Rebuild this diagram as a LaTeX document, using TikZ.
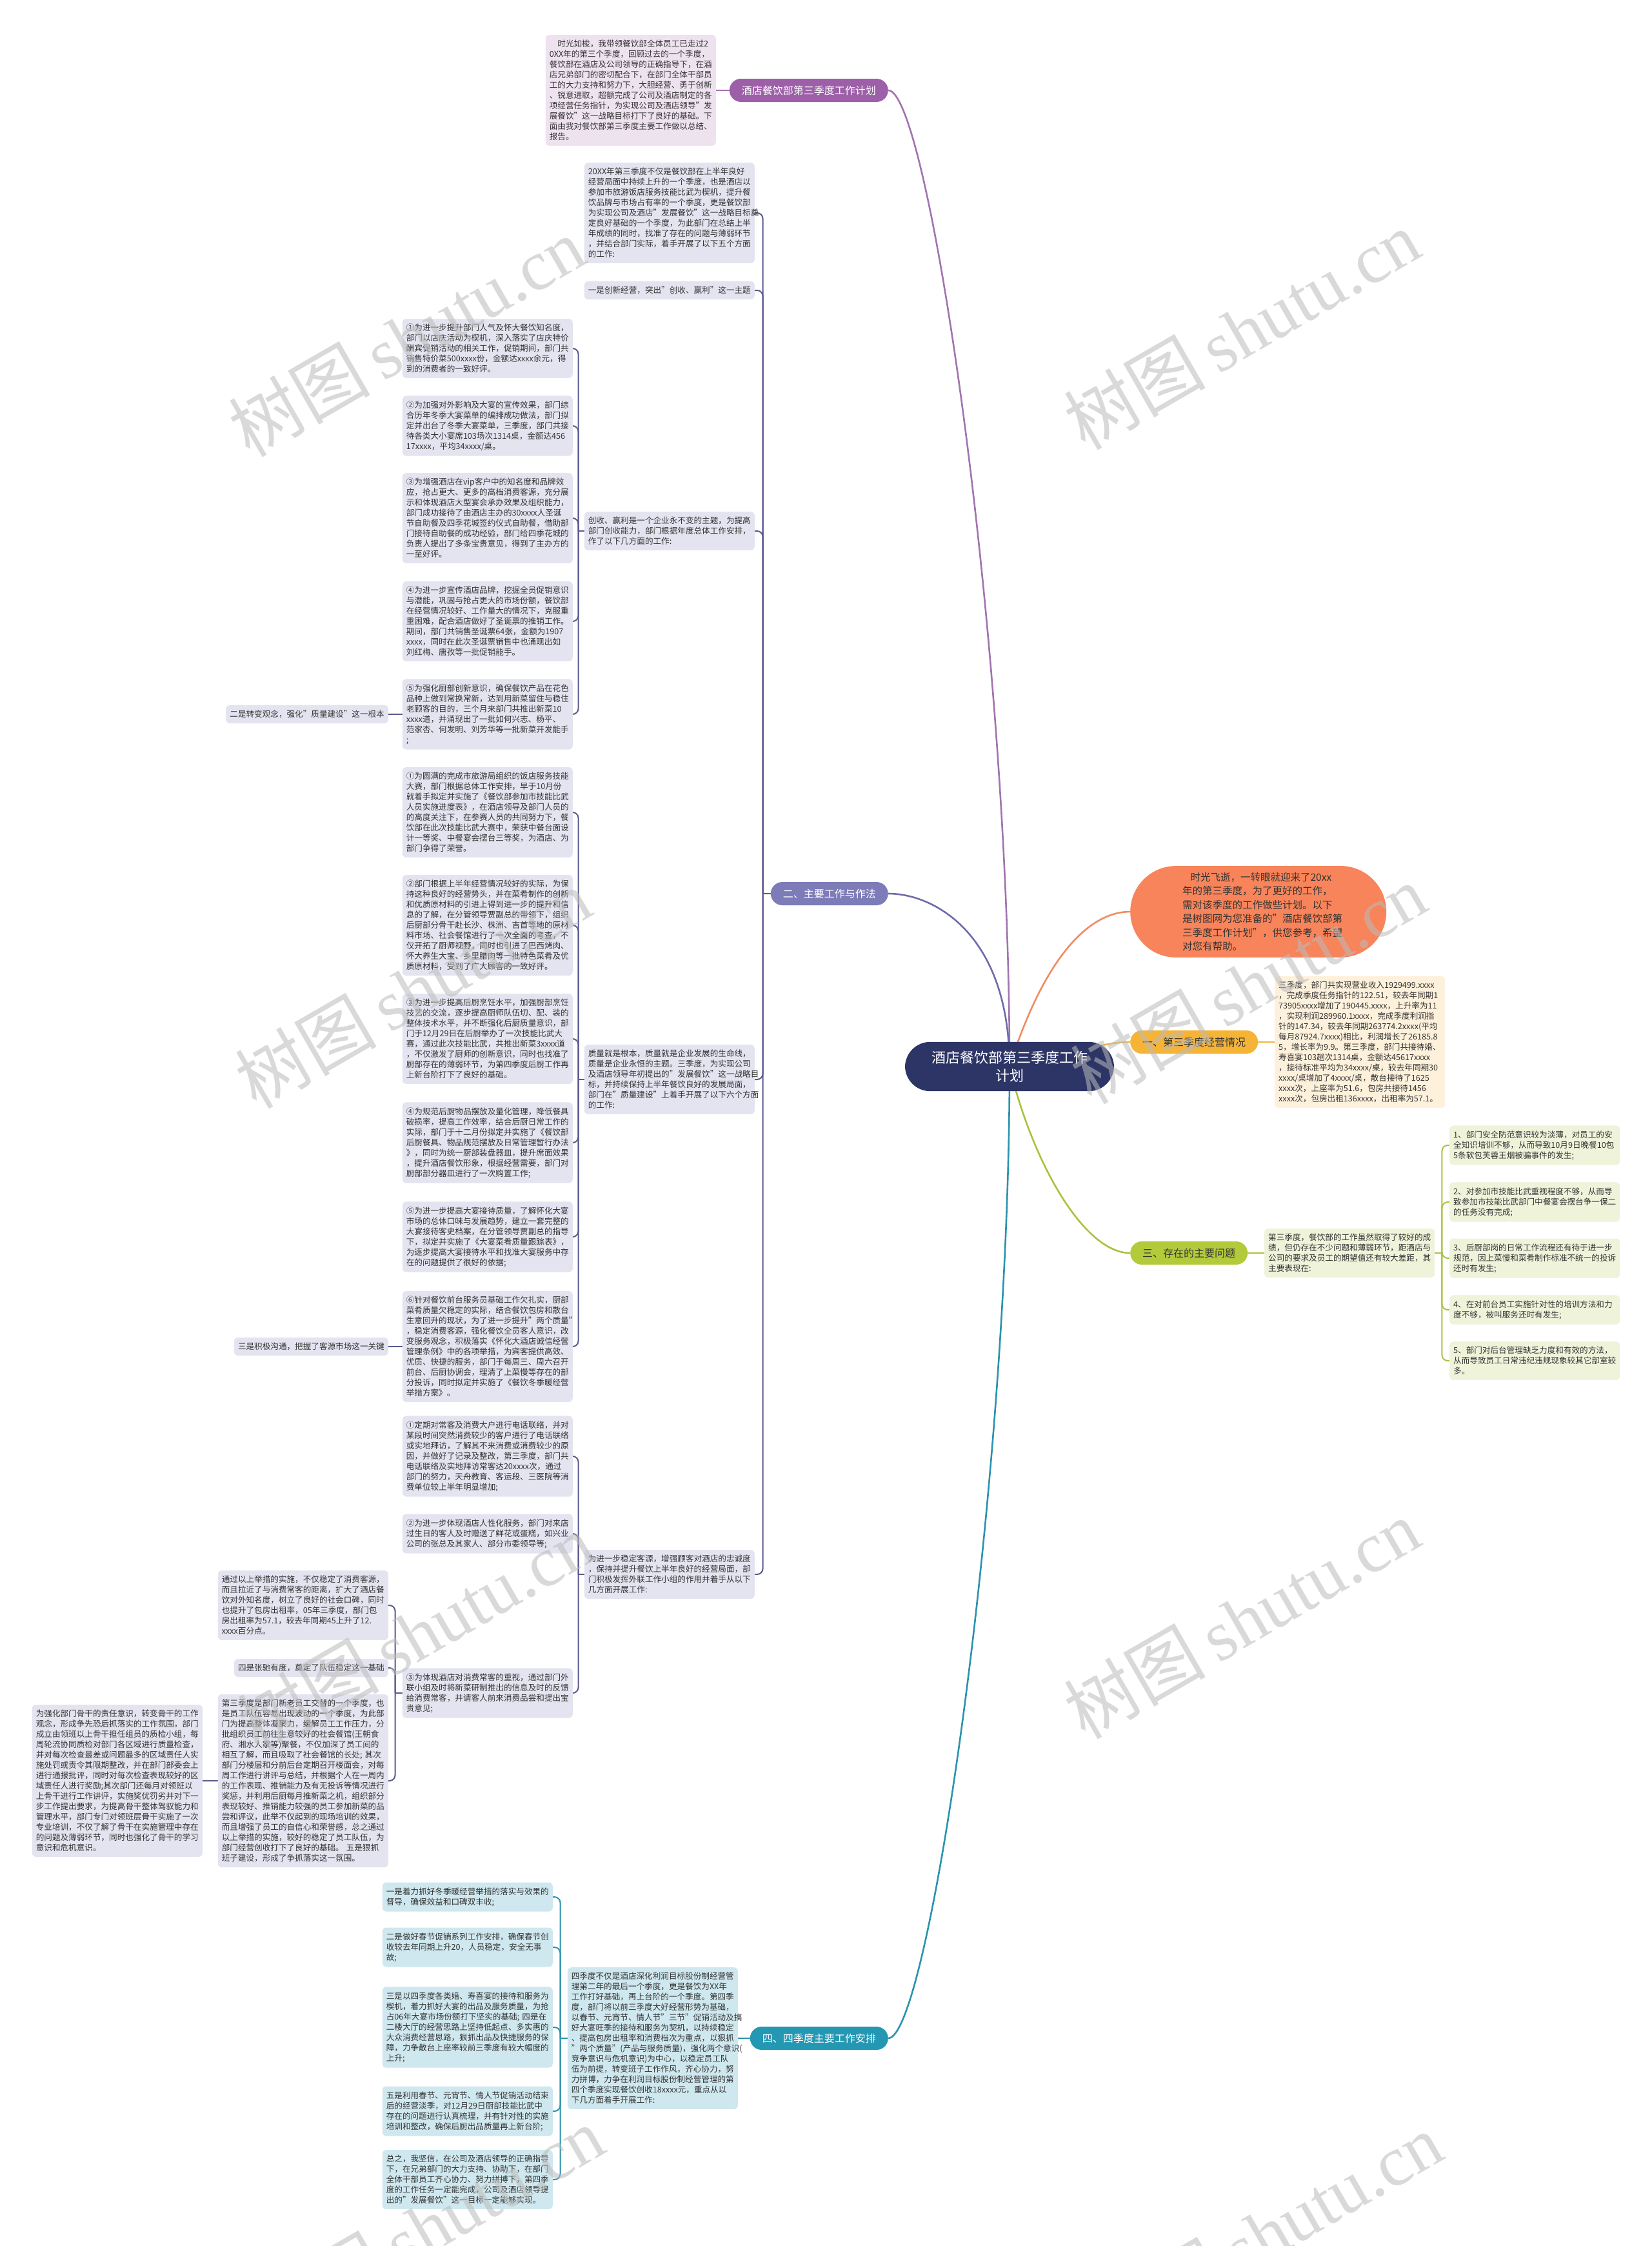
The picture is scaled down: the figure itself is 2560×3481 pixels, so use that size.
\documentclass[tikz,border=0pt]{standalone}
\usepackage{fontspec}
\setmainfont{Noto Sans CJK SC}
\newfontfamily\wmserif{Liberation Serif}
\usetikzlibrary{backgrounds}
\definecolor{txt}{HTML}{333333}
\definecolor{lavbox}{HTML}{E4E4F1}
\definecolor{purbox}{HTML}{EEE2EF}
\definecolor{yelbox}{HTML}{FEF1DC}
\definecolor{grnbox}{HTML}{EEF3DA}
\definecolor{teabox}{HTML}{CFE8EF}
\definecolor{purlbl}{HTML}{9D5FA8}
\definecolor{slatelbl}{HTML}{7D7BB8}
\definecolor{teallbl}{HTML}{2497B2}
\definecolor{yellbl}{HTML}{F6B437}
\definecolor{grnlbl}{HTML}{B3CB3A}
\definecolor{orangen}{HTML}{F7845A}
\definecolor{navy}{HTML}{2D3566}
\definecolor{purln}{HTML}{A274B0}
\definecolor{slateln}{HTML}{5B5A8E}
\definecolor{blueln}{HTML}{6E6CA8}
\definecolor{tealln}{HTML}{2A93AE}
\definecolor{orangeln}{HTML}{F08C62}
\definecolor{yelln}{HTML}{F2B63F}
\definecolor{grnln}{HTML}{A8C33E}
\definecolor{wmgray}{HTML}{BBBBBB}
\newcommand\bfnt{\fontsize{12.6}{16}\selectfont}
\newcommand\lfnt{\fontsize{16}{20}\selectfont}
\newcommand\cfnt{\fontsize{22}{28}\selectfont}
\newcommand\ofnt{\fontsize{15.5}{21.5}\selectfont}
\newcommand\wfnt{\fontsize{110}{110}\selectfont}
\tikzset{
  base/.style={font=\bfnt, text=txt, rounded corners=6pt, inner xsep=6pt, inner ysep=8pt, align=left},
  lav/.style={base, fill=lavbox, text width=252pt},
  lavs/.style={base, fill=lavbox},
  purb/.style={base, fill=purbox, text width=252pt},
  yelb/.style={base, fill=yelbox, text width=252pt},
  grnb/.style={base, fill=grnbox, text width=252pt},
  teab/.style={base, fill=teabox, text width=252pt},
  lbl/.style={font=\lfnt, rounded corners=18pt, minimum height=36pt, inner xsep=19pt, inner ysep=0pt},
  ctrbox/.style={font=\cfnt, fill=navy, text=white, rounded corners=39pt, inner xsep=41pt, inner ysep=14pt, align=center},
  orbox/.style={font=\ofnt, fill=orangen, text=txt, rounded corners=71pt, inner xsep=81pt, inner ysep=10pt, align=left, text width=235pt},
  cmain/.style={line width=2.6pt},
  csub/.style={line width=2pt, rounded corners=9pt},
  wm/.style={font=\wfnt, text=wmgray, text opacity=0.55, rotate=30, inner sep=0pt},
}
\begin{document}
\begin{tikzpicture}[x=1pt, y=-1pt]
\useasboundingbox (0,0) rectangle (2560,3481);

% ---------- center ----------
\node[ctrbox] (ctr) at (1565,1653) {酒店餐饮部第三季度工作\\计划};

% ---------- purple branch ----------
\node[lbl, fill=purlbl, text=white, anchor=east] (pl) at (1377,140) {酒店餐饮部第三季度工作计划};
\node[purb, anchor=east] (pb) at (1110,140) {\hspace*{1em}时光如梭，我带领餐饮部全体员工已走过2\\0XX年的第三个季度，回顾过去的一个季度，\\餐饮部在酒店及公司领导的正确指导下，在酒\\店兄弟部门的密切配合下，在部门全体干部员\\工的大力支持和努力下，大胆经营、勇于创新\\、锐意进取，超额完成了公司及酒店制定的各\\项经营任务指针，为实现公司及酒店领导"发\\展餐饮"这一战略目标打下了良好的基础。下\\面由我对餐饮部第三季度主要工作做以总结、\\报告。};

% ---------- branch 二 ----------
\node[lbl, fill=slatelbl, text=white, anchor=east] (l2) at (1377,1385) {二、主要工作与作法};
\node[lav, anchor=east] (t1) at (1170,330) {20XX年第三季度不仅是餐饮部在上半年良好\\经营局面中持续上升的一个季度，也是酒店以\\参加市旅游饭店服务技能比武为楔机，提升餐\\饮品牌与市场占有率的一个季度，更是餐饮部\\为实现公司及酒店"发展餐饮"这一战略目标奠\\定良好基础的一个季度，为此部门在总结上半\\年成绩的同时，找准了存在的问题与薄弱环节\\，并结合部门实际，着手开展了以下五个方面\\的工作:};
\node[lavs, anchor=east] (yi) at (1170,450) {一是创新经营，突出"创收、赢利"这一主题};
\node[lav, anchor=east] (cs) at (1170,823) {创收、赢利是一个企业永不变的主题，为提高\\部门创收能力，部门根据年度总体工作安排，\\作了以下几方面的工作:};
\node[lav, anchor=east] (zl) at (1170,1673) {质量就是根本，质量就是企业发展的生命线，\\质量是企业永恒的主题。三季度，为实现公司\\及酒店领导年初提出的"发展餐饮"这一战略目\\标，并持续保持上半年餐饮良好的发展局面，\\部门在"质量建设"上着手开展了以下六个方面\\的工作:};
\node[lav, anchor=east] (wd) at (1170,2440) {为进一步稳定客源，增强顾客对酒店的忠诚度\\，保持并提升餐饮上半年良好的经营局面，部\\门积极发挥外联工作小组的作用并着手从以下\\几方面开展工作:};

% children of cs
\node[lav, anchor=east] (a1) at (888,540) {①为进一步提升部门人气及怀大餐饮知名度，\\部门以店庆活动为楔机，深入落实了店庆特价\\酬宾促销活动的相关工作，促销期间，部门共\\销售特价菜500xxxx份，金额达xxxx余元，得\\到的消费者的一致好评。};
\node[lav, anchor=east] (a2) at (888,660) {②为加强对外影响及大宴的宣传效果，部门综\\合历年冬季大宴菜单的编排成功做法，部门拟\\定并出台了冬季大宴菜单，三季度，部门共接\\待各类大小宴席103场次1314桌，金额达456\\17xxxx，平均34xxxx/桌。};
\node[lav, anchor=east] (a3) at (888,803) {③为增强酒店在vip客户中的知名度和品牌效\\应，抢占更大、更多的高档消费客源，充分展\\示和体现酒店大型宴会承办效果及组织能力，\\部门成功接待了由酒店主办的30xxxx人圣诞\\节自助餐及四季花城签约仪式自助餐，借助部\\门接待自助餐的成功经验，部门给四季花城的\\负责人提出了多条宝贵意见，得到了主办方的\\一至好评。};
\node[lav, anchor=east] (a4) at (888,963) {④为进一步宣传酒店品牌，挖掘全员促销意识\\与潜能，巩固与抢占更大的市场份额，餐饮部\\在经营情况较好、工作量大的情况下，克服重\\重困难，配合酒店做好了圣诞票的推销工作。\\期间，部门共销售圣诞票64张，金额为1907\\xxxx，同时在此次圣诞票销售中也涌现出如\\刘红梅、唐孜等一批促销能手。};
\node[lav, anchor=east] (a5) at (888,1107) {⑤为强化厨部创新意识，确保餐饮产品在花色\\品种上做到常换常新，达到用新菜留住与稳住\\老顾客的目的，三个月来部门共推出新菜10\\xxxx道，并涌现出了一批如何兴志、杨平、\\范家杏、何发明、刘芳华等一批新菜开发能手\\;};
\node[lavs, anchor=east] (b2) at (602,1107) {二是转变观念，强化"质量建设"这一根本};

% children of zl
\node[lav, anchor=east] (q1) at (888,1259) {①为圆满的完成市旅游局组织的饭店服务技能\\大赛，部门根据总体工作安排，早于10月份\\就着手拟定并实施了《餐饮部参加市技能比武\\人员实施进度表》，在酒店领导及部门人员的\\的高度关注下，在参赛人员的共同努力下，餐\\饮部在此次技能比武大赛中，荣获中餐台面设\\计一等奖、中餐宴会摆台三等奖，为酒店、为\\部门争得了荣誉。};
\node[lav, anchor=east] (q2) at (888,1434) {②部门根据上半年经营情况较好的实际，为保\\持这种良好的经营势头，并在菜肴制作的创新\\和优质原材料的引进上得到进一步的提升和信\\息的了解，在分管领导贾副总的带领下，组织\\后厨部分骨干赴长沙、株洲、吉首等地的原材\\料市场、社会餐馆进行了一次全面的考查，不\\仅开拓了厨师视野，同时也引进了巴西烤肉、\\怀大养生大宝、乡里腊肉等一批特色菜肴及优\\质原材料，受到了广大顾客的一致好评。};
\node[lav, anchor=east] (q3) at (888,1610) {③为进一步提高后厨烹饪水平，加强厨部烹饪\\技艺的交流，逐步提高厨师队伍切、配、装的\\整体技术水平，并不断强化后厨质量意识，部\\门于12月29日在后厨举办了一次技能比武大\\赛，通过此次技能比武，共推出新菜3xxxx道\\，不仅激发了厨师的创新意识，同时也找准了\\厨部存在的薄弱环节，为第四季度后厨工作再\\上新台阶打下了良好的基础。};
\node[lav, anchor=east] (q4) at (888,1771) {④为规范后厨物品摆放及量化管理，降低餐具\\破损率，提高工作效率，结合后厨日常工作的\\实际，部门于十二月份拟定并实施了《餐饮部\\后厨餐具、物品规范摆放及日常管理暂行办法\\》，同时为统一厨部装盘器皿，提升席面效果\\，提升酒店餐饮形象，根据经营需要，部门对\\厨部部分器皿进行了一次购置工作;};
\node[lav, anchor=east] (q5) at (888,1917) {⑤为进一步提高大宴接待质量，了解怀化大宴\\市场的总体口味与发展趋势，建立一套完整的\\大宴接待客史档案，在分管领导贾副总的指导\\下，拟定并实施了《大宴菜肴质量跟踪表》，\\为逐步提高大宴接待水平和找准大宴服务中存\\在的问题提供了很好的依据;};
\node[lav, anchor=east] (q6) at (888,2087) {⑥针对餐饮前台服务员基础工作欠扎实，厨部\\菜肴质量欠稳定的实际，结合餐饮包房和散台\\生意回升的现状，为了进一步提升"两个质量"\\，稳定消费客源，强化餐饮全员客人意识，改\\变服务观念，积极落实《怀化大酒店诚信经营\\管理条例》中的各项举措，为宾客提供高效、\\优质、快捷的服务，部门于每周三、周六召开\\前台、后厨协调会，理清了上菜慢等存在的部\\分投诉，同时拟定并实施了《餐饮冬季暖经营\\举措方案》。};
\node[lavs, anchor=east] (b3) at (602,2087) {三是积极沟通，把握了客源市场这一关键};

% children of wd
\node[lav, anchor=east] (c1) at (888,2257) {①定期对常客及消费大户进行电话联络，并对\\某段时间突然消费较少的客户进行了电话联络\\或实地拜访，了解其不来消费或消费较少的原\\因，并做好了记录及整改，第三季度，部门共\\电话联络及实地拜访常客达20xxxx次，通过\\部门的努力，天舟教育、客运段、三医院等消\\费单位较上半年明显增加;};
\node[lav, anchor=east] (c2) at (888,2377) {②为进一步体现酒店人性化服务，部门对来店\\过生日的客人及时赠送了鲜花或蛋糕，如兴业\\公司的张总及其家人、部分市委领导等;};
\node[lav, anchor=east] (c3) at (888,2624) {③为体现酒店对消费常客的重视，通过部门外\\联小组及时将新菜研制推出的信息及时的反馈\\给消费常客，并请客人前来消费品尝和提出宝\\贵意见;};

\node[lav, anchor=east] (d1) at (602,2488) {通过以上举措的实施，不仅稳定了消费客源，\\而且拉近了与消费常客的距离，扩大了酒店餐\\饮对外知名度，树立了良好的社会口碑，同时\\也提升了包房出租率，05年三季度，部门包\\房出租率为57.1，较去年同期45上升了12.\\xxxx百分点。};
\node[lavs, anchor=east] (d2) at (602,2585) {四是张驰有度，奠定了队伍稳定这一基础};
\node[lav, anchor=east] (d3) at (602,2760) {第三季度是部门新老员工交替的一个季度，也\\是员工队伍容易出现波动的一个季度，为此部\\门为提高整体凝聚力，缓解员工工作压力，分\\批组织员工前往生意较好的社会餐馆(王朝食\\府、湘水人家等)聚餐，不仅加深了员工间的\\相互了解，而且吸取了社会餐馆的长处;~其次\\部门分楼层和分前后台定期召开楼面会，对每\\周工作进行讲评与总结，并根据个人在一周内\\的工作表现、推销能力及有无投诉等情况进行\\奖惩，并利用后厨每月推新菜之机，组织部分\\表现较好、推销能力较强的员工参加新菜的品\\尝和评议，此举不仅起到的现场培训的效果，\\而且增强了员工的自信心和荣誉感，总之通过\\以上举措的实施，较好的稳定了员工队伍，为\\部门经营创收打下了良好的基础。~五是狠抓\\班子建设，形成了争抓落实这一氛围。};
\node[lav, anchor=east] (e1) at (314,2760) {为强化部门骨干的责任意识，转变骨干的工作\\观念，形成争先恐后抓落实的工作氛围，部门\\成立由领班以上骨干担任组员的质检小组，每\\周轮流协同质检对部门各区域进行质量检查，\\并对每次检查最差或问题最多的区域责任人实\\施处罚或责令其限期整改，并在部门部委会上\\进行通报批评，同时对每次检查表现较好的区\\域责任人进行奖励;其次部门还每月对领班以\\上骨干进行工作讲评，实施奖优罚劣并对下一\\步工作提出要求，为提高骨干整体驾驭能力和\\管理水平，部门专门对领班层骨干实施了一次\\专业培训，不仅了解了骨干在实施管理中存在\\的问题及薄弱环节，同时也强化了骨干的学习\\意识和危机意识。};

% ---------- teal branch ----------
\node[lbl, fill=teallbl, text=white, anchor=east] (l4) at (1377,3159) {四、四季度主要工作安排};
\node[teab, anchor=east] (f0) at (1144,3159) {四季度不仅是酒店深化利润目标股份制经营管\\理第二年的最后一个季度，更是餐饮为XX年\\工作打好基础，再上台阶的一个季度。第四季\\度，部门将以前三季度大好经营形势为基础，\\以春节、元宵节、情人节"三节"促销活动及搞\\好大宴旺季的接待和服务为契机，以持续稳定\\、提高包房出租率和消费档次为重点，以狠抓\\"两个质量"(产品与服务质量)，强化两个意识(\\竞争意识与危机意识)为中心，以稳定员工队\\伍为前提，转变班子工作作风，齐心协力，努\\力拼博，力争在利润目标股份制经营管理的第\\四个季度实现餐饮创收18xxxx元，重点从以\\下几方面着手开展工作:};
\node[teab, anchor=east] (f1) at (857,2940) {一是着力抓好冬季暖经营举措的落实与效果的\\督导，确保效益和口碑双丰收;};
\node[teab, anchor=east] (f2) at (857,3018) {二是做好春节促销系列工作安排，确保春节创\\收较去年同期上升20，人员稳定，安全无事\\故;};
\node[teab, anchor=east] (f3) at (857,3142) {三是以四季度各类婚、寿喜宴的接待和服务为\\楔机，着力抓好大宴的出品及服务质量，为抢\\占06年大宴市场份额打下坚实的基础;~四是在\\二楼大厅的经营思路上坚持低起点、多实惠的\\大众消费经营思路，狠抓出品及快捷服务的保\\障，力争散台上座率较前三季度有较大幅度的\\上升;};
\node[teab, anchor=east] (f4) at (857,3272) {五是利用春节、元宵节、情人节促销活动结束\\后的经营淡季，对12月29日厨部技能比武中\\存在的问题进行认真梳理，并有针对性的实施\\培训和整改，确保后厨出品质量再上新台阶;};
\node[teab, anchor=east] (f5) at (857,3378) {总之，我坚信，在公司及酒店领导的正确指导\\下，在兄弟部门的大力支持、协助下，在部门\\全体干部员工齐心协力、努力拼搏下，第四季\\度的工作任务一定能完成，公司及酒店领导提\\出的"发展餐饮"这一目标一定能够实现。};

% ---------- right side ----------
\node[orbox, anchor=west] (or) at (1752,1413) {\hspace*{0.8em}时光飞逝，一转眼就迎来了20xx\\年的第三季度，为了更好的工作，\\需对该季度的工作做些计划。以下\\是树图网为您准备的"酒店餐饮部第\\三季度工作计划"，供您参考，希望\\对您有帮助。};
\node[lbl, fill=yellbl, text=txt, anchor=west] (ly) at (1752,1615) {一、第三季度经营情况};
\node[yelb, anchor=west] (yb) at (1976,1615) {三季度，部门共实现营业收入1929499.xxxx\\，完成季度任务指针的122.51，较去年同期1\\73905xxxx增加了190445.xxxx，上升率为11\\，实现利润289960.1xxxx，完成季度利润指\\针的147.34，较去年同期263774.2xxxx(平均\\每月87924.7xxxx)相比，利润增长了26185.8\\5，增长率为9.9。第三季度，部门共接待婚、\\寿喜宴103趟次1314桌，金额达45617xxxx\\，接待标准平均为34xxxx/桌，较去年同期30\\xxxx/桌增加了4xxxx/桌，散台接待了1625\\xxxx次，上座率为51.6，包房共接待1456\\xxxx次，包房出租136xxxx，出租率为57.1。};
\node[lbl, fill=grnlbl, text=txt, anchor=west] (lg) at (1752,1942) {三、存在的主要问题};
\node[grnb, anchor=west] (gb) at (1960,1942) {第三季度，餐饮部的工作虽然取得了较好的成\\绩，但仍存在不少问题和薄弱环节，距酒店与\\公司的要求及员工的期望值还有较大差距，其\\主要表现在:};
\node[grnb, anchor=west] (r1) at (2247,1775) {1、部门安全防范意识较为淡薄，对员工的安\\全知识培训不够，从而导致10月9日晚餐10包\\5条软包芙蓉王烟被骗事件的发生;};
\node[grnb, anchor=west] (r2) at (2247,1863) {2、对参加市技能比武重视程度不够，从而导\\致参加市技能比武部门中餐宴会摆台争一保二\\的任务没有完成;};
\node[grnb, anchor=west] (r3) at (2247,1950) {3、后厨部岗的日常工作流程还有待于进一步\\规范，因上菜慢和菜肴制作标准不统一的投诉\\还时有发生;};
\node[grnb, anchor=west] (r4) at (2247,2030) {4、在对前台员工实施针对性的培训方法和力\\度不够，被叫服务还时有发生;};
\node[grnb, anchor=west] (r5) at (2247,2109) {5、部门对后台管理缺乏力度和有效的方法，\\从而导致员工日常违纪违规现象较其它部室较\\多。};

% ---------- connectors ----------
\begin{pgfonlayer}{background}
\fill[white] (0,0) rectangle (2560,3481);
\draw[cmain, purln] (ctr.center) .. controls (1565,1000) and (1440,140) .. (pl.east);
\draw[cmain, blueln] (ctr.center) .. controls (1565,1450) and (1450,1385) .. (l2.east);
\draw[cmain, tealln] (ctr.center) .. controls (1565,2300) and (1440,3159) .. (l4.east);
\draw[cmain, orangeln] (ctr.center) .. controls (1620,1480) and (1690,1413) .. (or.west);
\draw[cmain, yelln] (ctr.center) .. controls (1650,1640) and (1700,1615) .. (ly.west);
\draw[cmain, grnln] (ctr.center) .. controls (1600,1800) and (1680,1942) .. (lg.west);

\draw[csub, purln] (pl.west) -- (pb.east);
\draw[csub, yelln] (ly.east) -- (yb.west);
\draw[csub, grnln] (lg.east) -- (gb.west);
\draw[csub, tealln] (l4.west) -- (f0.east);

% branch 二
\draw[csub, slateln] (l2.west) -- ++(-12,0) coordinate (l2t);
\foreach \c in {t1,yi,cs,zl,wd} \draw[csub, slateln] (l2t) |- (\c.east);
\draw[csub, slateln] (cs.west) -- ++(-9,0) coordinate (cst);
\foreach \c in {a1,a2,a3,a4,a5} \draw[csub, slateln] (cst) |- (\c.east);
\draw[csub, slateln] (a5.west) -- (b2.east);
\draw[csub, slateln] (zl.west) -- ++(-9,0) coordinate (zlt);
\foreach \c in {q1,q2,q3,q4,q5,q6} \draw[csub, slateln] (zlt) |- (\c.east);
\draw[csub, slateln] (q6.west) -- (b3.east);
\draw[csub, slateln] (wd.west) -- ++(-9,0) coordinate (wdt);
\foreach \c in {c1,c2,c3} \draw[csub, slateln] (wdt) |- (\c.east);
\draw[csub, slateln] (c3.west) -- ++(-11,0) coordinate (c3t);
\foreach \c in {d1,d2,d3} \draw[csub, slateln] (c3t) |- (\c.east);
\draw[csub, slateln] (d3.west) -- (e1.east);

% teal
\draw[csub, tealln] (f0.west) -- ++(-11,0) coordinate (f0t);
\foreach \c in {f1,f2,f3,f4,f5} \draw[csub, tealln] (f0t) |- (\c.east);

% green
\draw[csub, grnln] (gb.east) -- ++(11,0) coordinate (gbt);
\foreach \c in {r1,r2,r3,r4,r5} \draw[csub, grnln] (gbt) |- (\c.west);
\end{pgfonlayer}

% ---------- watermarks ----------
\foreach \wx/\wy [count=\i] in {630/522, 1925/511, 640/1532, 1935/1525, 644/2531, 1925/2509, 660/3450, 1960/3460}
  \node[wm] (wm\i) at (\wx,\wy) {树图\,{\wmserif shutu.cn}};
\end{tikzpicture}
\end{document}
